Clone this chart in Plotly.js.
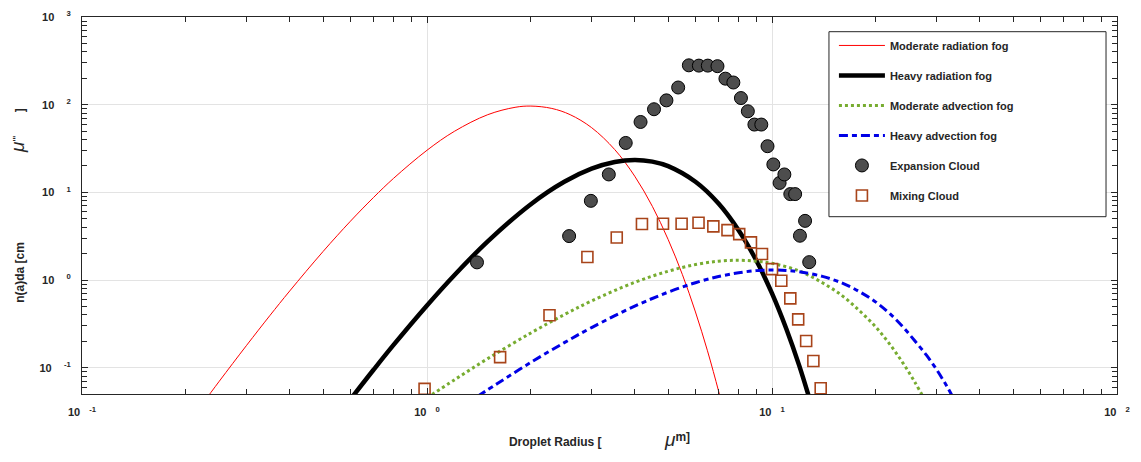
<!DOCTYPE html>
<html>
<head>
<meta charset="utf-8">
<script src="https://cdn.plot.ly/plotly-3.0.1.min.js"></script>
<style>html,body{margin:0;padding:0;background:#fff;}</style>
</head>
<body>
<div id="chart" style="width:1141px;height:462px;"></div>
<script>
// ---- data ----
const modRadX = [0.22, 0.25, 0.3, 0.35, 0.4, 0.5, 0.6, 0.7, 0.8, 1.0, 1.2, 1.5, 1.8, 2.0, 2.3, 2.6, 3.0, 3.5, 4.0, 4.5, 5.0, 5.5, 6.0, 6.5, 7.0, 7.3];
const modRadY = [0.0356, 0.0701, 0.180, 0.391, 0.750, 2.12, 4.69, 8.75, 14.45, 30.2, 49.6, 76.9, 93.3, 96.4, 90.6, 76.9, 54.7, 30.8, 15.3, 6.92, 2.90, 1.15, 0.432, 0.156, 0.0542, 0.0283];

const heavyRadX = [0.6, 0.7, 0.8, 1.0, 1.2, 1.5, 2.0, 2.5, 3.0, 3.5, 4.0, 4.5, 5.0, 6.0, 7.0, 8.0, 9.0, 10.0, 11.0, 12.0, 13.0];
const heavyRadY = [0.0436, 0.0947, 0.182, 0.513, 1.135, 2.76, 7.33, 13.2, 18.6, 22.2, 23.4, 22.4, 19.9, 13.2, 7.45, 3.70, 1.68, 0.704, 0.278, 0.105, 0.0377];

const modAdvX = [1.0, 1.2, 1.5, 2.0, 2.5, 3.0, 4.0, 5.0, 6.0, 7.0, 8.0, 9.0, 10.0, 12.0, 14.0, 16.0, 18.0, 20.0, 22.0, 24.0, 26.0, 28.0];
const modAdvY = [0.0453, 0.0726, 0.127, 0.249, 0.403, 0.578, 0.941, 1.26, 1.50, 1.64, 1.68, 1.64, 1.55, 1.27, 0.93, 0.66, 0.44, 0.29, 0.183, 0.112, 0.0675, 0.0399];

const heavyAdvX = [1.4, 1.6, 2.0, 2.5, 3.0, 4.0, 5.0, 6.0, 7.0, 8.0, 9.0, 10.0, 11.0, 12.0, 14.0, 16.0, 18.0, 20.0, 22.0, 24.0, 26.0, 28.0, 30.0, 32.0, 34.0];
const heavyAdvY = [0.047, 0.066, 0.115, 0.193, 0.287, 0.503, 0.728, 0.932, 1.096, 1.21, 1.28, 1.30, 1.285, 1.24, 1.10, 0.92, 0.73, 0.56, 0.41, 0.29, 0.20, 0.14, 0.095, 0.063, 0.041];

const expX = [1.396, 2.582, 2.985, 3.365, 3.767, 4.159, 4.550, 4.943, 5.346, 5.741, 6.138, 6.516, 6.950, 7.328, 7.727, 8.128, 8.511, 8.892, 9.311, 9.705, 10.09, 10.52, 10.86, 11.30, 11.67, 12.05, 12.47, 12.82];
const expY = [1.59, 3.17, 8.0, 16.0, 36.6, 63.5, 88.7, 112, 157, 281, 279, 279, 275, 198, 179, 119, 84.1, 59.3, 59.3, 33.6, 20.8, 12.8, 16.0, 9.55, 9.55, 3.20, 4.73, 1.60];

const mixX = [0.984, 1.629, 2.265, 2.917, 3.548, 4.198, 4.831, 5.470, 6.124, 6.761, 7.430, 8.035, 8.690, 9.354, 10.0, 10.64, 11.30, 11.91, 12.56, 13.18, 13.84];
const mixY = [0.0574, 0.132, 0.396, 1.83, 3.06, 4.35, 4.39, 4.39, 4.50, 4.09, 3.71, 3.34, 2.69, 1.98, 1.33, 0.982, 0.618, 0.356, 0.202, 0.119, 0.0583];

const seriesNames = ["Moderate radiation fog", "Heavy radiation fog", "Moderate advection fog", "Heavy advection fog", "Expansion Cloud", "Mixing Cloud"];
const xTickVals = [0.1, 1, 10, 100];
const xTickText = ["10\u00a0\u00a0\u00a0<sup>-1</sup>", "10\u00a0\u00a0\u00a0<sup>0</sup>", "10\u00a0\u00a0\u00a0<sup>1</sup>", "10\u00a0\u00a0\u00a0<sup>2</sup>"];
const yTickVals = [0.1, 1, 10, 100, 1000];
const yTickText = ["10\u00a0\u00a0\u00a0\u00a0<sup>-1</sup>", "10\u00a0\u00a0\u00a0\u00a0<sup>0</sup>", "10\u00a0\u00a0\u00a0\u00a0<sup>1</sup>", "10\u00a0\u00a0\u00a0\u00a0<sup>2</sup>", "10\u00a0\u00a0\u00a0\u00a0<sup>3</sup>"];

// ---- drawing ----
const nb = n => "\u00a0".repeat(n);
const FONT = "Liberation Sans, Arial, Helvetica, sans-serif";
const TXT = "#262626";
const MU = "<span style='font-size:19px;font-weight:normal;font-style:italic'>μ</span>";

const traces = [
  {x: modRadX, y: modRadY, name: seriesNames[0], mode: "lines", legendgroup: "a",
   line: {color: "#ff0000", width: 1, shape: "spline", smoothing: 1}},
  {x: heavyRadX, y: heavyRadY, name: seriesNames[1], mode: "lines", legendgroup: "b",
   line: {color: "#000000", width: 4.5, shape: "spline", smoothing: 1}},
  {x: modAdvX, y: modAdvY, name: seriesNames[2], mode: "lines", legendgroup: "c",
   line: {color: "#77ac30", width: 3, dash: "dot", shape: "spline", smoothing: 1}},
  {x: heavyAdvX, y: heavyAdvY, name: seriesNames[3], mode: "lines", legendgroup: "d",
   line: {color: "#0000e6", width: 3, dash: "9px,4px,5px,4px", shape: "spline", smoothing: 1}},
  {x: expX, y: expY, name: seriesNames[4], mode: "markers", legendgroup: "e",
   marker: {symbol: "circle", size: 13, color: "#4d4d4d", line: {color: "#000000", width: 1}}},
  {x: mixX, y: mixY, name: seriesNames[5], mode: "markers", legendgroup: "f",
   marker: {symbol: "square-open", size: 11, color: "#a8441a", line: {color: "#a8441a", width: 1.6}}}
];

const axisCommon = {
  type: "log", showline: true, linecolor: TXT, linewidth: 1, mirror: "ticks",
  ticks: "inside", ticklen: 6, tickcolor: TXT, tickwidth: 1,
  showgrid: true, gridcolor: "#e3e3e3", gridwidth: 1, zeroline: false,
  tickmode: "array",
  tickfont: {family: FONT, size: 11, color: TXT, weight: "bold"},
  minor: {ticks: "inside", ticklen: 5, tickcolor: TXT, tickwidth: 1, dtick: "D1", showgrid: false}
};

const layout = {
  width: 1141, height: 462,
  margin: {l: 82, r: 24, t: 17, b: 68, pad: 0},
  paper_bgcolor: "#ffffff", plot_bgcolor: "#ffffff",
  font: {family: FONT, color: TXT},
  showlegend: true,
  xaxis: Object.assign({}, axisCommon, {
    range: [-1, 2], tickvals: xTickVals, ticktext: xTickText, ticklabelstandoff: 8,
    title: {text: "Droplet Radius [" + nb(19) + MU + "<sup><span style='font-size:12px'>m]</span></sup>",
            font: {family: FONT, size: 12, color: TXT, weight: "bold"}, standoff: 20}
  }),
  yaxis: Object.assign({}, axisCommon, {
    range: [-1.3, 3], tickvals: yTickVals, ticktext: yTickText, ticklabelstandoff: 8,
    title: {text: "n(a)da [cm" + nb(27) + MU + "<sup>'''</sup>" + nb(7) + "]",
            font: {family: FONT, size: 12, color: TXT, weight: "bold"}, standoff: 12}
  }),
  legend: {
    x: 0.7265, y: 0.963, xanchor: "left", yanchor: "top",
    bgcolor: "rgba(0,0,0,0)", borderwidth: 0,
    font: {family: FONT, size: 11, color: TXT, weight: "bold"},
    itemwidth: 46, tracegroupgap: 11, traceorder: "grouped"
  },
  shapes: [{
    type: "rect", xref: "paper", yref: "paper", layer: "above",
    x0: 0.7217, x1: 0.9894, y0: 0.4703, y1: 0.961,
    fillcolor: "#ffffff", line: {color: TXT, width: 1}
  }]
};

Plotly.newPlot("chart", traces, layout, {displayModeBar: false, staticPlot: true});
</script>
</body>
</html>
